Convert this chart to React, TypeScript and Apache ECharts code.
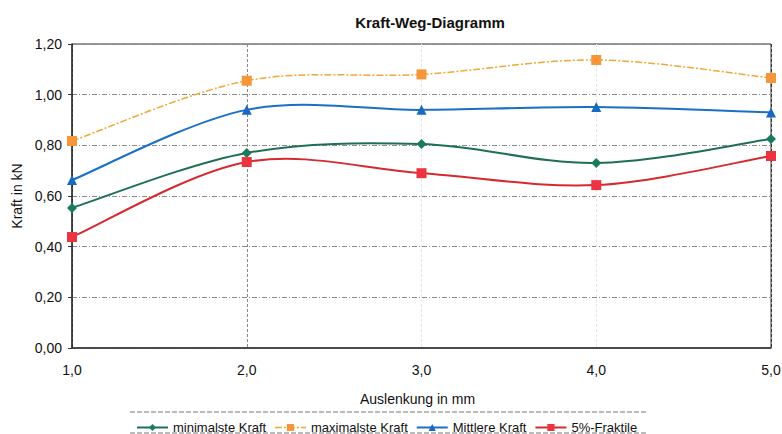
import React, { useEffect, useRef } from "react";
import * as echarts from "echarts";

const xValues = [1, 2, 3, 4, 5];
const minKraft = [0.553, 0.77, 0.805, 0.73, 0.825];
const maxKraft = [0.817, 1.055, 1.08, 1.137, 1.066];
const mittlereKraft = [0.663, 0.94, 0.94, 0.951, 0.93];
const fraktile = [0.438, 0.734, 0.69, 0.643, 0.758];

const seriesNames = ["minimalste Kraft", "maximalste Kraft", "Mittlere Kraft", "5%-Fraktile"];
const seriesValues = [minKraft, maxKraft, mittlereKraft, fraktile];
const symbols = ["diamond", "rect", "triangle", "rect"];
const markerColors = ["#1a7a5c", "#f7953b", "#1869c2", "#ec3440"];
const lineStyles: any[] = [
  { color: "#1f6e55", width: 2, type: "solid" },
  { color: "#f0a83a", width: 1.5, type: [7, 2, 2, 2] },
  { color: "#1a6fc6", width: 2, type: "solid" },
  { color: "#d42a30", width: 2, type: "solid" },
];

const toPairs = (ys: number[]) => xValues.map((x, i) => [x, ys[i]]);

const FONT = "Liberation Sans, Arial, sans-serif";

// Excel-like smoothed curve segment (Catmull-Rom -> Bezier), built from data via axis coords
const makeCurveRenderer = (ys: number[], ls: any) => (params: any, api: any) => {
  const i = params.dataIndex;
  const n = ys.length;
  if (i >= n - 1) return null;
  const P = (k: number) => {
    const kk = Math.max(0, Math.min(n - 1, k));
    return api.coord([xValues[kk], ys[kk]]);
  };
  const p0 = P(i - 1);
  const p1 = P(i);
  const p2 = P(i + 1);
  const p3 = P(i + 2);
  const t = 1 / 6;
  return {
    type: "bezierCurve",
    shape: {
      x1: p1[0],
      y1: p1[1],
      cpx1: p1[0] + (p2[0] - p0[0]) * t,
      cpy1: p1[1] + (p2[1] - p0[1]) * t,
      cpx2: p2[0] - (p3[0] - p1[0]) * t,
      cpy2: p2[1] - (p3[1] - p1[1]) * t,
      x2: p2[0],
      y2: p2[1],
    },
    style: {
      stroke: ls.color,
      lineWidth: ls.width,
      lineDash: Array.isArray(ls.type) ? ls.type : null,
      fill: null,
    },
  };
};

export default function App() {
  const ref = useRef<HTMLDivElement>(null);
  useEffect(() => {
    if (!ref.current) return;
    const chart = echarts.init(ref.current, undefined, { renderer: "svg" });

    const curveSeries = seriesValues.map((ys, k) => ({
      name: "_curve" + k,
      type: "custom",
      z: 1,
      data: toPairs(ys),
      renderItem: makeCurveRenderer(ys, lineStyles[k]),
      silent: true,
    }));

    const markerSeries = seriesValues.map((ys, k) => ({
      name: seriesNames[k],
      type: "line",
      z: 3,
      data: toPairs(ys),
      symbol: symbols[k],
      symbolSize: 10,
      itemStyle: { color: markerColors[k] },
      lineStyle: { ...lineStyles[k], opacity: 0 },
    }));

    chart.setOption({
      animation: false,
      backgroundColor: "#ffffff",
      textStyle: { fontFamily: FONT },
      title: {
        text: "Kraft-Weg-Diagramm",
        left: 425,
        textAlign: "center",
        top: 10,
        textStyle: { fontSize: 15, fontWeight: "bold", color: "#111", fontFamily: FONT },
      },
      grid: {
        left: 72,
        right: 11,
        top: 44,
        bottom: 86,
        outerBoundsMode: "none",
        containLabel: false,
        show: true,
        borderColor: "#333",
        borderWidth: 1,
        backgroundColor: "transparent",
      },
      legend: {
        left: 131,
        top: 416,
        itemWidth: 31,
        itemHeight: 9,
        itemGap: 8,
        textStyle: { fontSize: 13, color: "#111", fontFamily: FONT },
        data: seriesNames.map((name, k) => ({
          name,
          lineStyle: { ...lineStyles[k], opacity: 1 },
        })),
      },
      graphic: [
        {
          type: "line",
          shape: { x1: 130, y1: 412, x2: 646, y2: 412 },
          style: { stroke: "#777", lineWidth: 1, lineDash: [5, 2] },
        },
        {
          type: "line",
          shape: { x1: 130, y1: 433, x2: 646, y2: 433 },
          style: { stroke: "#777", lineWidth: 1, lineDash: [5, 2] },
        },
      ],
      xAxis: {
        type: "value",
        min: 1,
        max: 5,
        interval: 1,
        name: "Auslenkung in mm",
        nameLocation: "middle",
        nameGap: 44,
        nameTextStyle: { fontSize: 14, color: "#111", fontFamily: FONT, padding: [0, 8, 0, 0] },
        axisLine: { lineStyle: { color: "#333", width: 1.5 } },
        axisTick: { show: false },
        axisLabel: {
          fontSize: 14,
          color: "#111",
          margin: 15,
          formatter: (v: number) => v.toFixed(1).replace(".", ","),
        },
        splitLine: {
          show: true,
          lineStyle: { color: ["#333", "#888", "#e6e6e6", "#e6e6e6", "#333"], type: [3, 2], width: 1 },
        },
      },
      yAxis: {
        type: "value",
        min: 0,
        max: 1.2,
        interval: 0.2,
        name: "Kraft in kN",
        nameLocation: "middle",
        nameGap: 47,
        nameTextStyle: { fontSize: 14, color: "#111", fontFamily: FONT },
        axisLine: { show: true, lineStyle: { color: "#333", width: 1.5 } },
        axisTick: { show: true, length: 4, inside: false, lineStyle: { color: "#333" } },
        axisLabel: {
          fontSize: 14,
          color: "#111",
          margin: 10,
          formatter: (v: number) => v.toFixed(2).replace(".", ","),
        },
        splitLine: { show: true, lineStyle: { color: "#8a8a8a", type: [5, 2, 1, 2], width: 1 } },
      },
      series: [...curveSeries, ...markerSeries],
    });
    return () => chart.dispose();
  }, []);
  return <div ref={ref} style={{ width: 782, height: 434, position: "absolute", left: 0, top: 0 }} />;
}
